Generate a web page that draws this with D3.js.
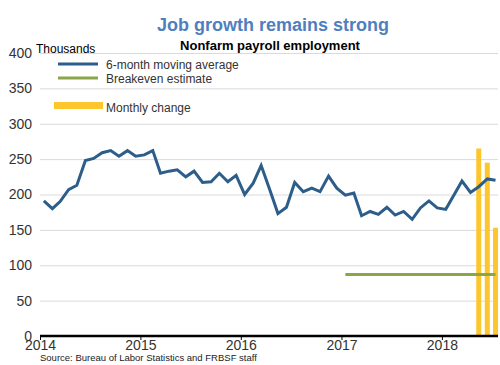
<!DOCTYPE html>
<html>
<head>
<meta charset="utf-8">
<script src="https://cdn.jsdelivr.net/npm/d3@7"></script>
<style>
  body { margin: 0; background: #fff; }
  text { font-family: 'Liberation Sans', Arial, sans-serif; }
</style>
</head>
<body>
<div id="chart"></div>
<script>
// 6-month moving average, Jan 2014 - Jul 2018 (thousands)
const movingAvg = [
  191, 180, 190, 207, 213, 248, 251, 259, 262, 254, 262, 254,
  256, 262, 230, 233, 235, 225, 233, 217, 218, 230, 218, 227,
  200, 216, 241, 207, 173, 182, 217, 204, 209, 204, 226, 209,
  199, 202, 170, 176, 172, 182, 171, 176, 165, 181, 191, 181,
  179, 200, 219, 203, 211, 222, 220
];
const breakevenStart = '2017-01';
const breakevenValue = 87;
const barMonths = ['2018-05', '2018-06', '2018-07'];
const barValues = [265, 245, 153];
const yTicks = [0, 50, 100, 150, 200, 250, 300, 350, 400];
const xTickYears = [2014, 2015, 2016, 2017, 2018];

const W = 500, H = 365;
const margin = { left: 40, right: 2, top: 53, bottom: 29 };
const parseMonth = d3.timeParse('%Y-%m');
const mid = s => d3.timeDay.offset(parseMonth(s), 14);

const avgData = movingAvg.map((v, i) => ({
  date: d3.timeDay.offset(d3.timeMonth.offset(new Date(2014, 0, 1), i), 14),
  value: v,
}));
const lastDate = avgData[avgData.length - 1].date;

const x = d3.scaleTime()
  .domain([new Date(2014, 0, 1), d3.timeDay.offset(lastDate, 9)])
  .range([margin.left, W - margin.right]);
const y = d3.scaleLinear()
  .domain([0, 400])
  .range([H - margin.bottom, margin.top]);

const svg = d3.select('#chart').append('svg')
  .attr('width', W).attr('height', H);

// title
svg.append('text')
  .attr('x', 273).attr('y', 31)
  .attr('text-anchor', 'middle')
  .style('font-size', '18px').style('font-weight', 'bold')
  .style('fill', '#4f7fc0')
  .text('Job growth remains strong');
svg.append('text')
  .attr('x', 270).attr('y', 50)
  .attr('text-anchor', 'middle')
  .style('font-size', '13px').style('font-weight', 'bold')
  .style('fill', '#000')
  .text('Nonfarm payroll employment');
svg.append('text')
  .attr('x', 36).attr('y', 53)
  .style('font-size', '12px').style('fill', '#000')
  .text('Thousands');

// grid + y axis
const yAxis = svg.append('g')
  .attr('transform', `translate(${margin.left},0)`)
  .call(d3.axisLeft(y).tickValues(yTicks).tickSize(-(W - margin.left - margin.right)).tickPadding(8));
yAxis.select('.domain').remove();
yAxis.selectAll('line').attr('stroke', '#dadada');
yAxis.selectAll('text')
  .style('font-size', '14px').style('fill', '#333')
  .attr('font-family', null);
yAxis.selectAll('.tick').filter(d => d === 0).select('line').remove();

// bars
const barW = 5;
svg.append('g').selectAll('rect')
  .data(barMonths.map((m, i) => ({ date: mid(m), value: barValues[i] })))
  .join('rect')
  .attr('x', d => x(d.date) - barW / 2)
  .attr('width', barW)
  .attr('y', d => y(d.value))
  .attr('height', d => y(0) - y(d.value))
  .attr('fill', '#fdc62d');

// breakeven
const beData = avgData.filter(d => d.date >= parseMonth(breakevenStart));
svg.append('line')
  .attr('x1', x(beData[0].date)).attr('x2', x(lastDate))
  .attr('y1', y(breakevenValue)).attr('y2', y(breakevenValue))
  .attr('stroke', '#8aa64a').attr('stroke-width', 3);

// moving average
svg.append('path')
  .datum(avgData)
  .attr('fill', 'none')
  .attr('stroke', '#2c5d8b')
  .attr('stroke-width', 3)
  .attr('stroke-linejoin', 'miter')
  .attr('d', d3.line().x(d => x(d.date)).y(d => y(d.value)));

// x axis
const xAxis = svg.append('g')
  .attr('transform', `translate(0,${y(0)})`)
  .call(d3.axisBottom(x)
    .tickValues(xTickYears.map(yr => new Date(yr, 0, 1)))
    .tickFormat(d3.timeFormat('%Y'))
    .tickSize(4).tickPadding(0));
xAxis.select('.domain').attr('stroke', '#000').attr('stroke-width', 2.5)
  .attr('d', `M${margin.left},0H${W - margin.right}`);
xAxis.selectAll('line').attr('stroke', '#000');
xAxis.selectAll('text')
  .style('font-size', '14px').style('fill', '#333')
  .attr('font-family', null);

// legend
const legend = svg.append('g');
const items = [
  { label: '6-month moving average', color: '#2c5d8b', y: 64 },
  { label: 'Breakeven estimate', color: '#8aa64a', y: 78 },
];
items.forEach(it => {
  legend.append('line')
    .attr('x1', 58).attr('x2', 98).attr('y1', it.y).attr('y2', it.y)
    .attr('stroke', it.color).attr('stroke-width', 3);
  legend.append('text')
    .attr('x', 106).attr('y', it.y + 5)
    .style('font-size', '12px').style('fill', '#333')
    .text(it.label);
});
legend.append('rect')
  .attr('x', 54).attr('y', 102).attr('width', 49).attr('height', 7)
  .attr('fill', '#fdc62d');
legend.append('text')
  .attr('x', 106).attr('y', 112)
  .style('font-size', '12px').style('fill', '#333')
  .text('Monthly change');

svg.append('text')
  .attr('x', 40).attr('y', 361)
  .style('font-size', '9.5px').style('fill', '#222')
  .text('Source: Bureau of Labor Statistics and FRBSF staff');
</script>
</body>
</html>
